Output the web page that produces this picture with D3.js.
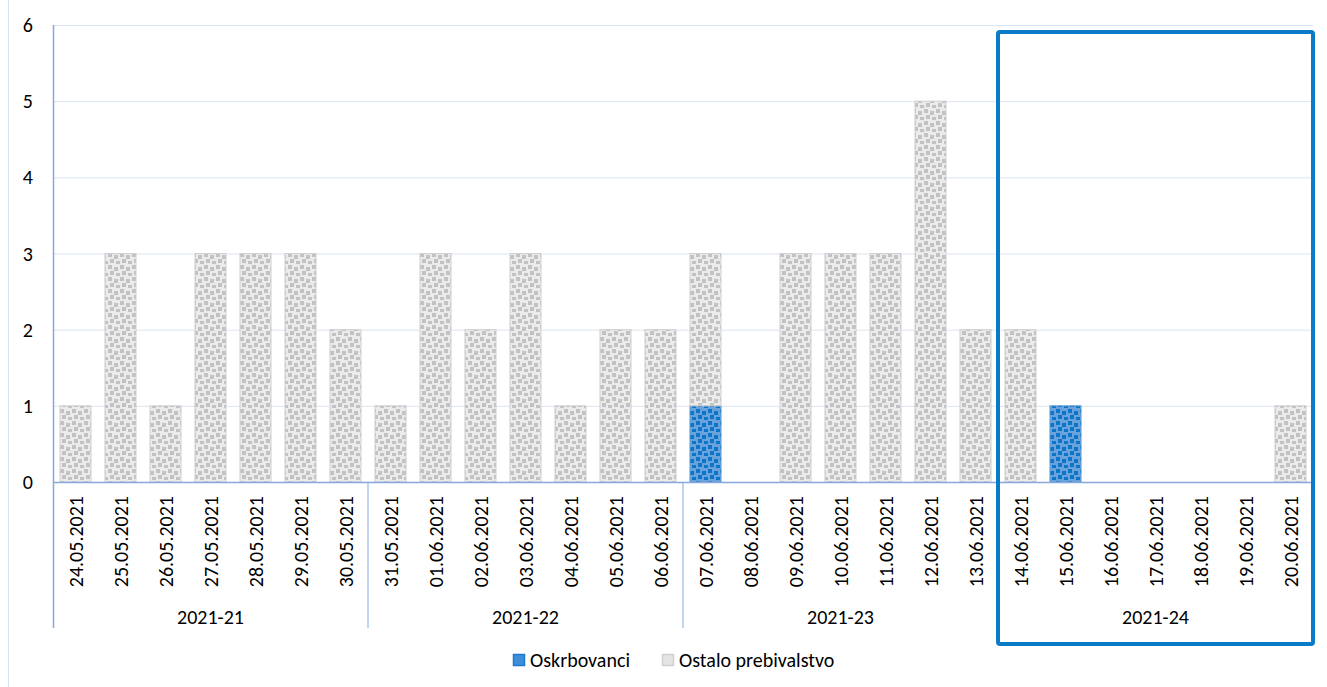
<!DOCTYPE html>
<html><head><meta charset="utf-8">
<script src="https://cdn.jsdelivr.net/npm/d3@7"></script>
<style>body{margin:0;background:#fff}text{font-family:Calibri,Carlito,"Open Sans",sans-serif}</style>
</head><body><svg id="c" width="1327" height="687"></svg>
<script>
const dates=["24.05.2021","25.05.2021","26.05.2021","27.05.2021","28.05.2021","29.05.2021","30.05.2021",
"31.05.2021","01.06.2021","02.06.2021","03.06.2021","04.06.2021","05.06.2021","06.06.2021",
"07.06.2021","08.06.2021","09.06.2021","10.06.2021","11.06.2021","12.06.2021","13.06.2021",
"14.06.2021","15.06.2021","16.06.2021","17.06.2021","18.06.2021","19.06.2021","20.06.2021"];
const weeks=["2021-21","2021-22","2021-23","2021-24"];
const oskrbovanci=[0,0,0,0,0,0,0, 0,0,0,0,0,0,0, 1,0,0,0,0,0,0, 0,1,0,0,0,0,0];
const ostalo=[1,3,1,3,3,3,2, 1,3,2,3,1,2,2, 2,0,3,3,3,5,2, 2,0,0,0,0,0,1];
const yTicks=[0,1,2,3,4,5,6];
const seriesNames=["Oskrbovanci","Ostalo prebivalstvo"];

const svg=d3.select("#c");
const L=53,R=1313,T=25,B=482;
const FS=20;
const x=d3.scaleBand().domain(dates).range([L,R]).paddingInner(0.31).paddingOuter(0.155);
const y=d3.scaleLinear().domain([0,6]).range([B,T]);

const defs=svg.append("defs");
function pat(id,bg,fg){
  const p=defs.append("pattern").attr("id",id).attr("patternUnits","userSpaceOnUse").attr("width",12).attr("height",12);
  p.append("rect").attr("width",12).attr("height",12).attr("fill",bg);
  [[0,1],[6,3],[2,7],[8,9]].forEach(([a,b])=>
    p.append("rect").attr("x",a).attr("y",b).attr("width",4).attr("height",4).attr("fill",fg));
}
pat("pb","#6aa2dc","#0c75c8");
pat("pg","#ebebeb","#c2c2c2");

// outer chart border
svg.append("rect").attr("x",8.5).attr("y",-2).attr("width",1330).attr("height",700).attr("fill","none").attr("stroke","#d9e2f0");

// gridlines
svg.append("g").selectAll("line").data(yTicks.filter(d=>d>0)).join("line")
 .attr("x1",L).attr("x2",R).attr("y1",d=>y(d)+0.5).attr("y2",d=>y(d)+0.5).attr("stroke","#dbe4f3").attr("stroke-width",1);

// y labels
svg.append("g").selectAll("text").data(yTicks).join("text")
 .attr("x",33).attr("y",d=>y(d)+7).attr("text-anchor","end").attr("font-size",FS).attr("fill","#000").text(d=>d);

// stacked bars
const stack=d3.stack().keys(["a","b"])(dates.map((d,i)=>({date:d,a:oskrbovanci[i],b:ostalo[i]})));
const fills=["url(#pb)","url(#pg)"],strokes=["#5b9bd5","#d0d0d0"];
stack.forEach((s,k)=>{
  svg.append("g").selectAll("rect").data(s.filter(d=>d[1]-d[0]>0)).join("rect")
   .attr("x",d=>x(d.data.date)).attr("width",x.bandwidth())
   .attr("y",d=>y(d[1])).attr("height",d=>y(d[0])-y(d[1]))
   .attr("fill",fills[k]).attr("stroke",strokes[k]).attr("stroke-width",1);
});

// axes lines
const axc="#86a9dc";
svg.append("line").attr("x1",L+0.5).attr("x2",L+0.5).attr("y1",T).attr("y2",628).attr("stroke",axc).attr("stroke-width",1.5);
svg.append("line").attr("x1",L).attr("x2",R).attr("y1",B+0.5).attr("y2",B+0.5).attr("stroke",axc).attr("stroke-width",1.5);
[7,14,21].forEach(i=>{
  const xx=x(dates[i])-x.step()*x.paddingInner()/2;
  svg.append("line").attr("x1",xx).attr("x2",xx).attr("y1",B).attr("y2",628).attr("stroke",axc).attr("stroke-width",1);
});

// date labels
svg.append("g").selectAll("text").data(dates).join("text")
 .attr("transform",d=>`translate(${x(d)+x.bandwidth()/2+7},496) rotate(-90)`)
 .attr("text-anchor","end").attr("font-size",FS).attr("fill","#000").text(d=>d);

// week labels
svg.append("g").selectAll("text").data(weeks).join("text")
 .attr("x",(d,i)=>L+x.step()*7*(i+0.5)).attr("y",624).attr("text-anchor","middle").attr("font-size",FS).attr("fill","#000").text(d=>d);

// highlight box
const bx=x(dates[21])-x.step()*x.paddingInner()/2;
svg.append("rect").attr("x",bx).attr("y",32).attr("width",1313-bx).attr("height",612).attr("rx",2)
 .attr("fill","none").attr("stroke","#0a7cc7").attr("stroke-width",4);

// legend
const lg=svg.append("g");
const lx=[513,662];
seriesNames.forEach((n,i)=>{
  lg.append("rect").attr("x",lx[i]+0.5).attr("y",654.5).attr("width",11).attr("height",11)
   .attr("fill",i==0?"#3f8fd8":"#e4e4e4").attr("stroke",i==0?"#1a7bd0":"#d0d0d0").attr("stroke-width",1.5);
  lg.append("text").attr("x",lx[i]+17).attr("y",667).attr("font-size",FS).attr("fill","#000").text(n);
});
</script></body></html>
